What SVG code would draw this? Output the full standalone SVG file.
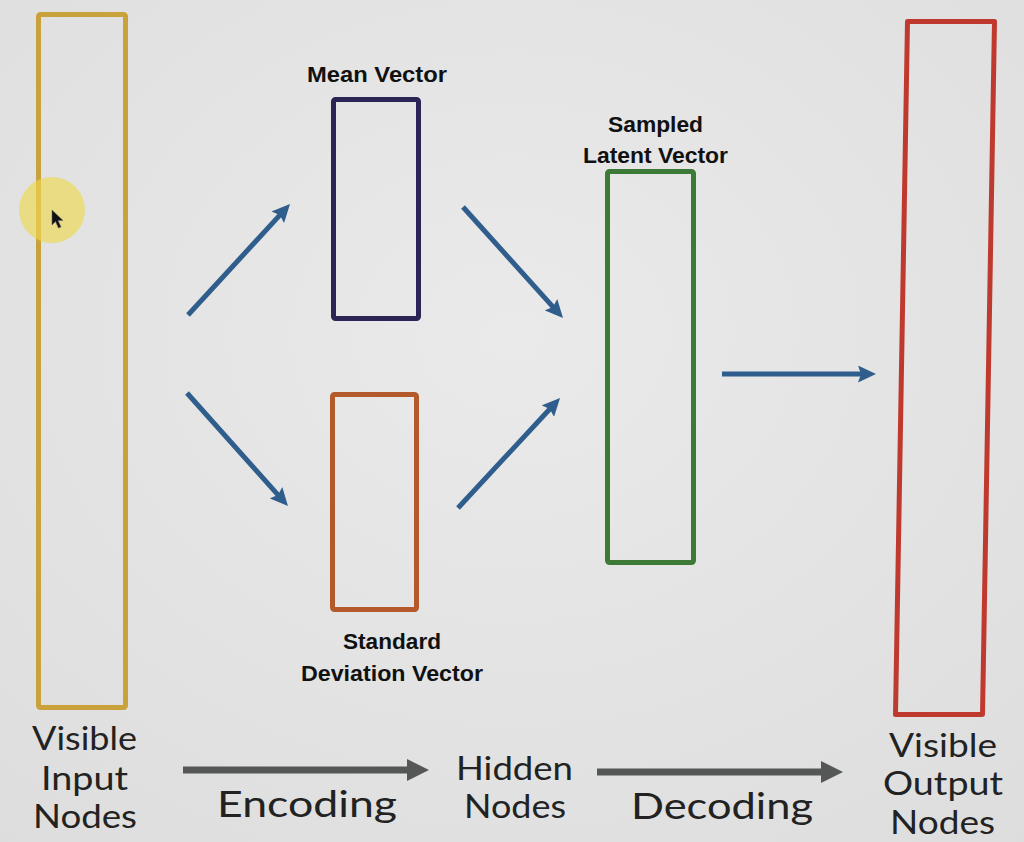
<svg xmlns="http://www.w3.org/2000/svg" width="1024" height="842" viewBox="0 0 1024 842">
  <defs>
    <radialGradient id="bg" cx="0.5" cy="0.4" r="0.8">
      <stop offset="0" stop-color="#e9eae9"/>
      <stop offset="1" stop-color="#dcdddc"/>
    </radialGradient>
    <marker id="blueHead" viewBox="0 0 18 17" markerUnits="userSpaceOnUse" markerWidth="18" markerHeight="17" refX="5" refY="8.5" orient="auto">
      <path d="M0,0 L18,8.5 L0,17 L3,8.5 z" fill="#2f5d8c"/>
    </marker>
    <marker id="grayHead" viewBox="0 0 22 22" markerUnits="userSpaceOnUse" markerWidth="22" markerHeight="22" refX="2" refY="11" orient="auto">
      <path d="M0,0 L22,11 L0,22 z" fill="#555756"/>
    </marker>
    <style>
      .box { fill: none; stroke-width: 5; stroke-linejoin: round; }
      .blue { stroke: #2f5d8c; stroke-width: 5; fill: none; marker-end: url(#blueHead); }
      .gray { stroke: #555756; stroke-width: 7; fill: none; marker-end: url(#grayHead); }
      .lbl { font-family: "Liberation Sans", Arial, sans-serif; font-weight: bold; font-size: 22px; fill: #111; }
      .cap { font-family: Lato, "Noto Sans", sans-serif; font-weight: normal; font-size: 33px; fill: #222; }
      .big { font-size: 36px; }
    </style>
  </defs>

  <rect x="0" y="0" width="1024" height="842" fill="url(#bg)"/>

  <g id="input-nodes">
    <rect class="box" x="38.5" y="14.5" width="87" height="693" rx="2" stroke="#c9a23c"/>
  </g>

  <g id="cursor">
    <circle cx="52" cy="210" r="33" fill="#ecd94f" fill-opacity="0.65"/>
    <path d="M52,210 L52,225 L55.5,221.5 L58.5,228 L61,227 L58,220.5 L63,220.5 z" fill="#111" stroke="#666" stroke-width="0.6"/>
  </g>

  <g id="mean-vector">
    <rect class="box" x="333.5" y="99.5" width="85" height="219" rx="2" stroke="#2b2556"/>
    <text class="lbl" x="307" y="82" textLength="140" lengthAdjust="spacingAndGlyphs">Mean Vector</text>
  </g>

  <g id="std-vector">
    <rect class="box" x="332.5" y="394.5" width="84" height="215" rx="2" stroke="#b3592b"/>
    <text class="lbl" x="343" y="649" textLength="98" lengthAdjust="spacingAndGlyphs">Standard</text>
    <text class="lbl" x="301" y="681" textLength="182" lengthAdjust="spacingAndGlyphs">Deviation Vector</text>
  </g>

  <g id="latent-vector">
    <rect class="box" x="607.5" y="171.5" width="86" height="391" rx="2" stroke="#3d7a37"/>
    <text class="lbl" x="608" y="132" textLength="95" lengthAdjust="spacingAndGlyphs">Sampled</text>
    <text class="lbl" x="583" y="163" textLength="145" lengthAdjust="spacingAndGlyphs">Latent Vector</text>
  </g>

  <g id="output-nodes">
    <polygon class="box" points="907.5,21.5 994.5,21.5 982.5,714.5 895.5,714.5" stroke="#c0392e"/>
  </g>

  <g id="connectors">
    <line class="blue" x1="188" y1="315" x2="281.2" y2="213.6"/>
    <line class="blue" x1="463" y1="207" x2="554.3" y2="308.4"/>
    <line class="blue" x1="187" y1="393" x2="279.3" y2="496.4"/>
    <line class="blue" x1="458" y1="508" x2="551.2" y2="407.5"/>
    <line class="blue" x1="722" y1="374" x2="863" y2="374"/>
    <line class="gray" x1="183" y1="770" x2="409" y2="770"/>
    <line class="gray" x1="597" y1="772" x2="823" y2="772"/>
  </g>

  <g id="captions">
    <text class="cap" x="32" y="750" textLength="105" lengthAdjust="spacingAndGlyphs">Visible</text>
    <text class="cap" x="41" y="790" textLength="87" lengthAdjust="spacingAndGlyphs">Input</text>
    <text class="cap" x="33" y="828" textLength="104" lengthAdjust="spacingAndGlyphs">Nodes</text>
    <text class="cap big" x="217" y="817" textLength="180" lengthAdjust="spacingAndGlyphs">Encoding</text>
    <text class="cap" x="456" y="780" textLength="117" lengthAdjust="spacingAndGlyphs">Hidden</text>
    <text class="cap" x="464" y="818" textLength="102" lengthAdjust="spacingAndGlyphs">Nodes</text>
    <text class="cap big" x="631" y="819" textLength="182" lengthAdjust="spacingAndGlyphs">Decoding</text>
    <text class="cap" x="889" y="757" textLength="108" lengthAdjust="spacingAndGlyphs">Visible</text>
    <text class="cap" x="883" y="795" textLength="120" lengthAdjust="spacingAndGlyphs">Output</text>
    <text class="cap" x="890" y="834" textLength="105" lengthAdjust="spacingAndGlyphs">Nodes</text>
  </g>
</svg>
